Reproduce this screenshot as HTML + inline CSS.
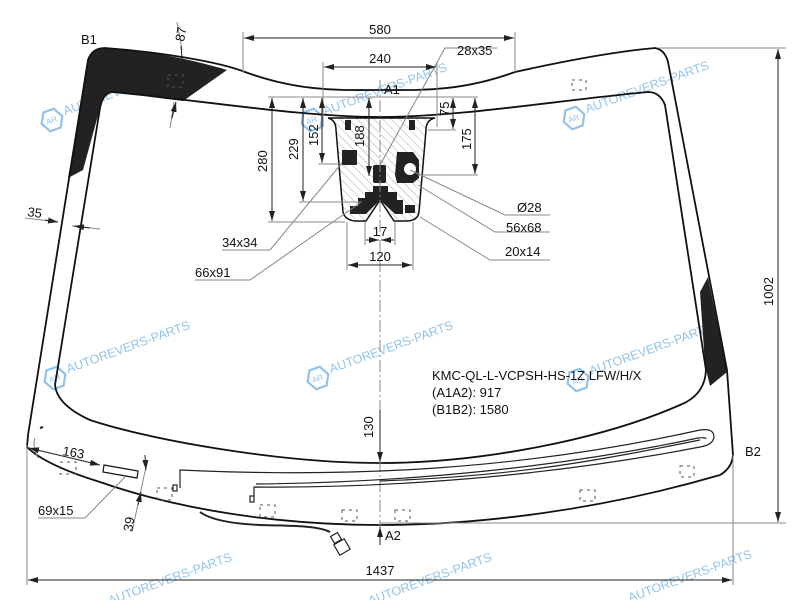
<!DOCTYPE html>
<html><head><meta charset="utf-8"><style>
html,body{margin:0;padding:0;background:#fff}
svg{display:block;font-family:"Liberation Sans",Arial,sans-serif}
</style></head><body>
<svg width="800" height="600" viewBox="0 0 800 600" xmlns="http://www.w3.org/2000/svg">
<defs>
<pattern id="h" width="6" height="6" patternUnits="userSpaceOnUse" patternTransform="rotate(-45)">
<line x1="0" y1="0" x2="0" y2="6" stroke="#999" stroke-width="0.8"/></pattern>
<marker id="a" markerWidth="10" markerHeight="6" refX="10" refY="3" orient="auto-start-reverse" markerUnits="userSpaceOnUse"><path d="M0,0 L10,3 L0,6 Z" fill="#222"/></marker>
</defs>

<!-- watermarks -->
<g fill="#7fb8e6" font-size="12.5" opacity="0.85">
<g transform="translate(52,120) rotate(-20)"><polygon points="-11,0 -5.5,-10 5.5,-10 11,0 5.5,10 -5.5,10" fill="none" stroke="#7fb8e6" stroke-width="2.2"/><text x="-6" y="3" font-size="8">AR</text><text x="14" y="0">AUTOREVERS-PARTS</text></g>
<g transform="translate(312,120) rotate(-20)"><polygon points="-11,0 -5.5,-10 5.5,-10 11,0 5.5,10 -5.5,10" fill="none" stroke="#7fb8e6" stroke-width="2.2"/><text x="-6" y="3" font-size="8">AR</text><text x="14" y="0">AUTOREVERS-PARTS</text></g>
<g transform="translate(574,118) rotate(-20)"><polygon points="-11,0 -5.5,-10 5.5,-10 11,0 5.5,10 -5.5,10" fill="none" stroke="#7fb8e6" stroke-width="2.2"/><text x="-6" y="3" font-size="8">AR</text><text x="14" y="0">AUTOREVERS-PARTS</text></g>
<g transform="translate(55,378) rotate(-20)"><polygon points="-11,0 -5.5,-10 5.5,-10 11,0 5.5,10 -5.5,10" fill="none" stroke="#7fb8e6" stroke-width="2.2"/><text x="-6" y="3" font-size="8">AR</text><text x="14" y="0">AUTOREVERS-PARTS</text></g>
<g transform="translate(318,378) rotate(-20)"><polygon points="-11,0 -5.5,-10 5.5,-10 11,0 5.5,10 -5.5,10" fill="none" stroke="#7fb8e6" stroke-width="2.2"/><text x="-6" y="3" font-size="8">AR</text><text x="14" y="0">AUTOREVERS-PARTS</text></g>
<g transform="translate(578,380) rotate(-20)"><polygon points="-11,0 -5.5,-10 5.5,-10 11,0 5.5,10 -5.5,10" fill="none" stroke="#7fb8e6" stroke-width="2.2"/><text x="-6" y="3" font-size="8">AR</text><text x="14" y="0">AUTOREVERS-PARTS</text></g>
<text x="110" y="605" transform="rotate(-20 110 605)">AUTOREVERS-PARTS</text>
<text x="370" y="605" transform="rotate(-20 370 605)">AUTOREVERS-PARTS</text>
<text x="630" y="602" transform="rotate(-20 630 602)">AUTOREVERS-PARTS</text>
</g>

<!-- black bands -->
<path d="M68 178 L88 60 Q92 48 105 48 C160 52 200 62 227 70 L183 101 C150 97 125 93 112 92 Q103 93 100 108 L83 170 Z" fill="#222"/>
<path d="M708 277 L727 372 L710 386 L705 365 L700 292 Z" fill="#222"/>

<!-- outer glass -->
<path d="M88 60 Q92 48 105 48 C160 52 220 62 245 72 C300 92 340 90 380 90 C420 90 460 92 515 72 C560 62 610 52 655 48 Q665 50 668 62 L727 370 L733 455 Q732 468 720 475 C600 510 480 525 380 525 C280 525 180 510 100 482 Q45 465 27 447 L28 435 Z" fill="none" stroke="#111" stroke-width="1.8"/>
<!-- opening -->
<path d="M112 92 C200 100 300 117 380 117 C460 117 560 100 648 92 Q660 92 665 105 L706 370 Q705 395 680 405 C600 440 480 463 380 463 C280 463 150 440 90 420 Q57 405 55 385 L100 108 Q103 93 112 92 Z" fill="none" stroke="#111" stroke-width="1.8"/>

<!-- sensor area -->
<path d="M328 118 Q336 120 336 130 L343 212 Q345 220 355 221 L366 221 L380 200 L394 221 L408 221 Q418 220 419 212 L426 130 Q426 120 435 118 Z" fill="url(#h)" stroke="#111" stroke-width="1.5"/>
<g fill="#222">
<rect x="345" y="120" width="6" height="10"/><rect x="409" y="120" width="6" height="10"/>
<rect x="342" y="150" width="15" height="15"/>
<rect x="373" y="165" width="13" height="18" rx="2"/>
<path d="M397 152 L413 152 L419 160 L419 178 L413 183 L397 183 L395 175 Z"/>
<path d="M373 186 L388 186 L388 192 L397 192 L397 200 L403 200 L403 214 L395 214 L380 200 L366 214 L350 214 L350 206 L358 206 L358 198 L365 198 L365 192 L373 192 Z"/>
<rect x="405" y="205" width="10" height="8"/>
</g>
<circle cx="410" cy="169" r="6" fill="#fff"/>

<!-- centerline -->
<line x1="380" y1="80" x2="380" y2="545" stroke="#888" stroke-width="1" stroke-dasharray="12,3,2,3"/>

<!-- dims -->
<g stroke="#888" stroke-width="1" fill="none">
<line x1="243" y1="32" x2="243" y2="72"/><line x1="515" y1="32" x2="515" y2="72"/>
<line x1="323" y1="62" x2="323" y2="127"/><line x1="437" y1="62" x2="437" y2="127"/>
<line x1="268" y1="97" x2="478" y2="97"/>
<line x1="268" y1="222" x2="345" y2="222"/>
<line x1="299" y1="202" x2="362" y2="202"/>
<line x1="318" y1="164" x2="342" y2="164"/>
<line x1="428" y1="130" x2="456" y2="130"/>
<line x1="418" y1="175" x2="478" y2="175"/>
<line x1="365" y1="222" x2="365" y2="245"/><line x1="395" y1="222" x2="395" y2="245"/>
<line x1="347" y1="222" x2="347" y2="270"/><line x1="413" y1="222" x2="413" y2="270"/>
<line x1="658" y1="48" x2="786" y2="48"/><line x1="380" y1="523" x2="786" y2="523"/>
<line x1="27" y1="445" x2="27" y2="585"/><line x1="733" y1="455" x2="733" y2="585"/>
<line x1="177" y1="22" x2="182" y2="50"/><line x1="170" y1="128" x2="174" y2="102"/>
<line x1="25" y1="218" x2="58" y2="222"/><line x1="72" y1="226" x2="100" y2="229"/>
<line x1="147" y1="462" x2="132" y2="532"/>
<path d="M38 458 Q32 445 35 438"/>
<polyline points="380,165 445,48 497,48"/>
<polyline points="410,170 505,215 550,215"/>
<polyline points="418,185 495,232 550,232"/>
<polyline points="420,217 490,260 550,260"/>
<polyline points="342,163 270,250 222,250"/>
<polyline points="360,203 250,280 195,280"/>
<polyline points="125,477 85,518 38,518"/>
</g>
<g stroke="#222" stroke-width="1" marker-start="url(#a)" marker-end="url(#a)">
<line x1="244" y1="38" x2="514" y2="38"/>
<line x1="324" y1="67" x2="436" y2="67"/>
<line x1="272" y1="98" x2="272" y2="221"/>
<line x1="303" y1="98" x2="303" y2="201"/>
<line x1="322" y1="98" x2="322" y2="163"/>
<line x1="369" y1="98" x2="369" y2="176"/>
<line x1="475" y1="98" x2="475" y2="174"/>
<line x1="348" y1="265" x2="412" y2="265"/>
<line x1="778" y1="49" x2="778" y2="522"/>
<line x1="28" y1="580" x2="732" y2="580"/>
<line x1="29" y1="448" x2="100" y2="465"/>
</g>
<g stroke="#222" stroke-width="1" marker-end="url(#a)">
<line x1="453" y1="112" x2="453" y2="98"/><line x1="453" y1="112" x2="453" y2="129"/>
<line x1="366" y1="240" x2="379" y2="240"/><line x1="394" y1="240" x2="381" y2="240"/>
<line x1="181" y1="46" x2="183" y2="71"/><line x1="172" y1="118" x2="176" y2="102"/>
<line x1="45" y1="220" x2="58" y2="222"/><line x1="90" y1="228" x2="74" y2="226"/>
<line x1="380" y1="410" x2="380" y2="462"/><line x1="380" y1="545" x2="380" y2="527"/>
<line x1="145" y1="455" x2="146" y2="470"/><line x1="138" y1="505" x2="141" y2="492"/>
</g>

<!-- bottom details -->
<path d="M104 465 L138 471 L137 478 L103 472 Z" fill="#fff" stroke="#111" stroke-width="1.2"/>
<g fill="none" stroke="#222" stroke-width="1.2">
<path d="M180 488 L180 470 C350 478 520 470 700 430 Q714 428 714 437 Q713 445 700 447 C520 482 350 488 254 487 L254 497"/>
<path d="M256 484 C350 483 520 476 698 438 Q706 437 706 439"/>
<path d="M380 481 C520 476 600 460 700 440"/>
<rect x="173" y="485" width="4" height="6"/><rect x="250" y="496" width="4" height="6"/>
<path d="M200 512 Q215 523 260 525 C300 526 318 526 330 532" stroke-width="2"/>
<rect x="332" y="534" width="8" height="8" transform="rotate(-30 336 538)"/>
<rect x="336" y="541" width="12" height="12" transform="rotate(-30 342 547)"/>
<path d="M40 428 L43 427" stroke-width="2"/>
</g>
<g fill="none" stroke="#555" stroke-width="1" stroke-dasharray="3,4">
<rect x="168" y="75" width="15" height="12"/><rect x="572" y="80" width="14" height="10"/>
<rect x="60" y="462" width="16" height="12"/><rect x="157" y="488" width="15" height="12"/>
<rect x="260" y="505" width="15" height="12"/><rect x="342" y="510" width="15" height="11"/>
<rect x="395" y="510" width="15" height="11"/><rect x="580" y="490" width="15" height="11"/>
<rect x="680" y="466" width="14" height="11"/>
</g>

<!-- text -->
<g font-size="13" fill="#111">
<text x="380" y="34" text-anchor="middle">580</text>
<text x="380" y="63" text-anchor="middle">240</text>
<text x="384" y="94">A1</text>
<text x="457" y="55">28x35</text>
<text x="81" y="44">B1</text>
<text transform="translate(184,42) rotate(-80)">87</text>
<text x="27" y="216" transform="rotate(8 27 216)">35</text>
<text transform="translate(267,172) rotate(-90)">280</text>
<text transform="translate(298,160) rotate(-90)">229</text>
<text transform="translate(318,146) rotate(-90)">152</text>
<text transform="translate(364,147) rotate(-90)">188</text>
<text transform="translate(449,116) rotate(-90)">75</text>
<text transform="translate(471,150) rotate(-90)">175</text>
<text x="517" y="212">Ø28</text>
<text x="506" y="232">56x68</text>
<text x="505" y="256">20x14</text>
<text x="222" y="247">34x34</text>
<text x="195" y="277">66x91</text>
<text x="380" y="236" text-anchor="middle">17</text>
<text x="380" y="261" text-anchor="middle">120</text>
<text transform="translate(773,306) rotate(-90)">1002</text>
<text x="745" y="456">B2</text>
<text x="432" y="380">KMC-QL-L-VCPSH-HS-1Z LFW/H/X</text>
<text x="432" y="397">(A1A2): 917</text>
<text x="432" y="414">(B1B2): 1580</text>
<text transform="translate(373,438) rotate(-90)">130</text>
<text x="62" y="455" transform="rotate(10 62 455)">163</text>
<text x="38" y="515">69x15</text>
<text transform="translate(132,532) rotate(-80)">39</text>
<text x="385" y="540">A2</text>
<text x="380" y="575" text-anchor="middle">1437</text>
</g>
</svg>
</body></html>
